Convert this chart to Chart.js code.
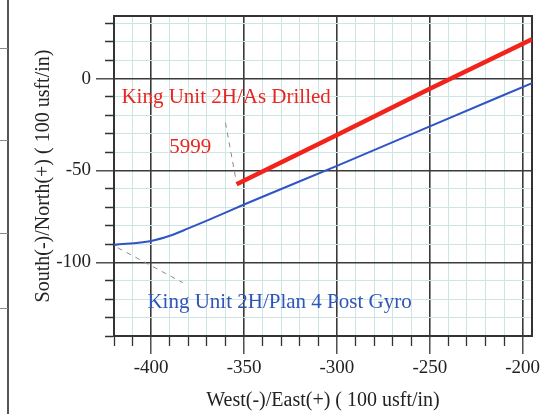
<!DOCTYPE html>
<html>
<head>
<meta charset="utf-8">
<script src="https://cdn.jsdelivr.net/npm/chart.js"></script>
<style>
  html, body { margin: 0; padding: 0; background: #fff; }
  .wrap { position: relative; width: 540px; height: 414px; }
  .edge { position: absolute; left: 7px; top: 0; height: 414px; border-left: 2px solid #555; }
  .notch { position: absolute; left: 0; width: 8px; border-top: 1px solid #888; }
</style>
</head>
<body>
<div class="wrap">
  <canvas id="myChart" width="540" height="414"></canvas>
  <div class="edge"></div>
  <div class="notch" style="top:48px"></div>
  <div class="notch" style="top:140px"></div>
  <div class="notch" style="top:233px"></div>
  <div class="notch" style="top:308px"></div>
</div>

<script>
  // As Drilled (red)
  var drilledEW = [-354, -300, -250, -195];
  var drilledNS = [-57.5, -30.7, -5.5, 21.3];

  // Plan 4 Post Gyro (blue)
  var planEW = [-420, -400, -390, -380, -370, -350, -300, -250, -195];
  var planNS = [-90.5, -88.3, -85.5, -81.5, -77.3, -68.5, -47.5, -26, -2.5];

  // labelled ticks
  var xTickLabels = [-400, -350, -300, -250, -200];
  var yTickLabels = [0, -50, -100];

  // text on the plot
  var notes = [
    { text: 'King Unit 2H/As Drilled', x: -416, y: -10.5, color: '#e8261f', align: 'left' },
    { text: '5999', x: -379, y: -37.5, color: '#e8261f', align: 'center' },
    { text: 'King Unit 2H/Plan 4 Post Gyro', x: -402, y: -122, color: '#2f55b8', align: 'left' }
  ];
  // dashed leaders
  var leaders = [
    { x1: -360, y1: -24, x2: -354, y2: -57 },
    { x1: -418, y1: -92, x2: -383, y2: -111 }
  ];

  var FONT = 'Liberation Serif';

  function pts(xs, ys) {
    return xs.map(function (x, i) { return { x: x, y: ys[i] }; });
  }
  function isMajor(v) { return Math.abs(v % 50) < 1e-6; }

  var overlay = {
    id: 'overlay',
    beforeDatasetsDraw: function (chart) {
      var c = chart.ctx, a = chart.chartArea;
      var xs = chart.scales.x, ys = chart.scales.y;
      c.save();
      c.strokeStyle = '#333';
      c.lineWidth = 2;
      c.strokeRect(a.left, a.top, a.right - a.left, a.bottom - a.top);
      c.strokeStyle = '#8a8a8a';
      c.lineWidth = 1;
      c.setLineDash([5, 5]);
      leaders.forEach(function (l) {
        c.beginPath();
        c.moveTo(xs.getPixelForValue(l.x1), ys.getPixelForValue(l.y1));
        c.lineTo(xs.getPixelForValue(l.x2), ys.getPixelForValue(l.y2));
        c.stroke();
      });
      c.restore();
    },
    afterDatasetsDraw: function (chart) {
      var c = chart.ctx;
      var xs = chart.scales.x, ys = chart.scales.y;
      c.save();
      c.font = '21px "' + FONT + '"';
      c.textBaseline = 'middle';
      notes.forEach(function (n) {
        c.fillStyle = n.color;
        c.textAlign = n.align;
        c.fillText(n.text, xs.getPixelForValue(n.x), ys.getPixelForValue(n.y));
      });
      c.restore();
    }
  };

  var ctx = document.getElementById('myChart').getContext('2d');
  var myChart = new Chart(ctx, {
    type: 'line',
    data: {
      datasets: [
        {
          label: 'King Unit 2H/As Drilled',
          data: pts(drilledEW, drilledNS),
          borderColor: '#f2231b',
          borderWidth: 4.5,
          pointRadius: 0,
          tension: 0
        },
        {
          label: 'King Unit 2H/Plan 4 Post Gyro',
          data: pts(planEW, planNS),
          borderColor: '#2f55c4',
          borderWidth: 2,
          pointRadius: 0,
          cubicInterpolationMode: 'monotone'
        }
      ]
    },
    options: {
      responsive: false,
      animation: false,
      parsing: false,
      layout: { padding: { top: 16, right: 8, left: 0, bottom: 0 } },
      plugins: { legend: { display: false }, tooltip: { enabled: false } },
      scales: {
        x: {
          type: 'linear',
          position: 'bottom',
          min: -420,
          max: -195,
          afterFit: function (s) { s.height = 78; s.paddingLeft = 0; s.paddingRight = 0; },
          ticks: {
            stepSize: 10,
            includeBounds: false,
            autoSkip: false,
            maxRotation: 0,
            padding: 3,
            color: '#222',
            font: { family: FONT, size: 19 },
            callback: function (v) { return xTickLabels.indexOf(v) >= 0 ? String(v) : ''; }
          },
          grid: {
            color: function (c) { return c.tick && isMajor(c.tick.value) ? '#3a3a3a' : '#cfe5e4'; },
            lineWidth: function (c) { return c.tick && isMajor(c.tick.value) ? 1.6 : 1; },
            tickColor: '#333',
            tickLength: 18,
            tickWidth: 1.3,
            tickBorderDash: function (c) { return c.tick && isMajor(c.tick.value) ? [] : [9, 100]; }
          },
          border: { color: '#333', width: 2 },
          title: {
            display: true,
            text: 'West(-)/East(+) ( 100 usft/in)',
            color: '#222',
            font: { family: FONT, size: 20 },
            padding: { top: 0, bottom: 1 }
          }
        },
        y: {
          type: 'linear',
          min: -140,
          max: 34,
          afterFit: function (s) { s.width = 114; s.paddingTop = 0; s.paddingBottom = 0; },
          ticks: {
            stepSize: 10,
            includeBounds: false,
            autoSkip: false,
            padding: 5,
            color: '#222',
            font: { family: FONT, size: 19 },
            callback: function (v) { return yTickLabels.indexOf(v) >= 0 ? String(v) : ''; }
          },
          grid: {
            color: function (c) { return c.tick && isMajor(c.tick.value) ? '#3a3a3a' : '#cfe5e4'; },
            lineWidth: function (c) { return c.tick && isMajor(c.tick.value) ? 1.6 : 1; },
            tickColor: '#333',
            tickLength: 18,
            tickWidth: 1.3,
            tickBorderDash: function (c) { return c.tick && isMajor(c.tick.value) ? [] : [0, 9, 9, 100]; }
          },
          border: { color: '#333', width: 2 },
          title: {
            display: true,
            text: 'South(-)/North(+) ( 100 usft/in)',
            color: '#222',
            font: { family: FONT, size: 20 },
            padding: { top: 32, bottom: 0 }
          }
        }
      }
    },
    plugins: [overlay]
  });
</script>
</body>
</html>
